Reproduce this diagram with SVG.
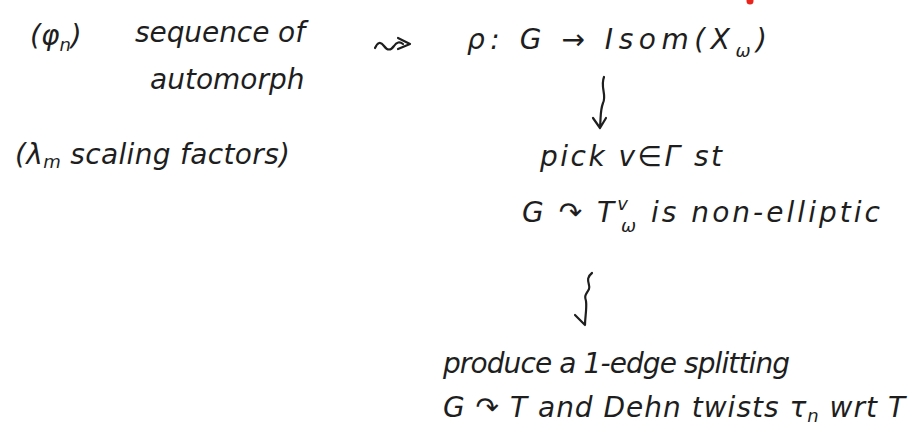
<svg xmlns="http://www.w3.org/2000/svg" width="915" height="439" viewBox="0 0 915 439">
<style>
.t{font-family:"DejaVu Sans","Noto Sans",sans-serif;font-style:italic;font-size:28px;fill:#1e1e1e}
.s{font-size:18px}
.c{fill:none;stroke:#1e1e1e;stroke-width:2.2;stroke-linecap:round;stroke-linejoin:round}
</style>
<rect width="915" height="439" fill="#fff"/>
<circle cx="750" cy="1" r="3.5" fill="#e8241c"/>
<g id="n1">
<text class="t" x="30" y="45" font-size="32">(φ<tspan class="s" dy="6">n</tspan><tspan dy="-6">)</tspan></text>
<text class="t" x="135" y="42" textLength="170" lengthAdjust="spacing">sequence of</text>
<text class="t" x="150" y="89">automorph</text>
</g>
<g id="n2">
<text class="t" x="467" y="49" textLength="300" lengthAdjust="spacing">ρ: G → Isom(X<tspan class="s" dy="8">ω</tspan><tspan dy="-8">)</tspan></text>
</g>
<g id="n3">
<text class="t" x="15" y="164" textLength="275" lengthAdjust="spacing">(λ<tspan class="s" dy="4">m</tspan><tspan dy="-4"> scaling factors)</tspan></text>
</g>
<g id="n4">
<text class="t" x="540" y="166" textLength="182" lengthAdjust="spacing">pick v∈Γ st</text>
<text class="t" x="522" y="222" textLength="358" lengthAdjust="spacing">G ↷ T<tspan class="s" dy="-12">v</tspan><tspan class="s" dx="-10" dy="22">ω</tspan><tspan dy="-10">   is non-elliptic</tspan></text>
</g>
<g id="n5">
<text class="t" x="443" y="373" textLength="347" lengthAdjust="spacing">produce a 1-edge splitting</text>
<text class="t" x="443" y="417" textLength="462" lengthAdjust="spacing">G ↷ T and Dehn twists τ<tspan class="s" dy="5">n</tspan><tspan dy="-5"> wrt T</tspan></text>
</g>
<g id="connectors">
<path class="c" d="M375,48 q4,-9 9,-2 q5,7 10,0 q4,-6 9,-2 M398,38 l12,6 l-12,5"/>
<path class="c" d="M604,77 c-4,10 3,18 -1,26 c-3,8 -2,14 -3,24 M593,118 l7,10 l6,-10"/>
<path class="c" d="M592,273 c-8,6 -1,12 -3,16 c-3,6 -5,6 -3,12 c1,8 -1,16 -1,24 M575,315 l10,10"/>
</g>
</svg>
